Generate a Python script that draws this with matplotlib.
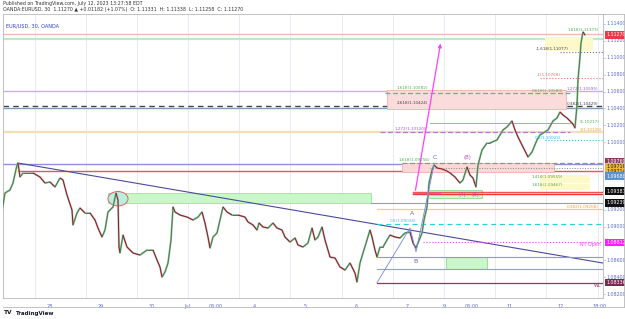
import numpy as np
import matplotlib.pyplot as plt
from matplotlib.collections import LineCollection
from matplotlib.patches import Rectangle, Ellipse, FancyArrowPatch
import matplotlib.transforms as mtransforms

# chart position (30m bars, ~1.06 per bar) and closes
pos = [2, 5, 10, 13, 17, 18, 20, 23, 33, 40, 45, 50, 55, 60, 63, 67, 72, 73, 77, 80,
       85, 90, 95, 98, 102, 105, 108, 113, 116, 118, 119, 120, 123, 127, 133, 140, 147, 153, 157, 160,
       162, 165, 168, 171, 173, 175, 180, 187, 193, 198, 202, 205, 208, 210, 213, 217, 220, 223, 227, 232,
       238, 245, 248, 253, 257, 259, 263, 268, 273, 277, 282, 285, 290, 295, 298, 303, 308, 312, 315, 318,
       322, 325, 328, 330, 335, 340, 345, 350, 355, 357, 360, 363, 367, 370, 372, 375, 377, 380, 383, 387,
       390, 395, 400, 405, 410, 413, 416, 418, 422, 424, 427, 429, 432, 434, 437, 442, 447, 450, 455, 460,
       463, 467, 470, 473, 476, 478, 482, 487, 490, 497, 503, 507, 512, 515, 518, 523, 527, 528, 532, 537,
       540, 548, 553, 557, 560, 563, 567, 570, 573, 575, 577, 578, 580, 581, 583, 585]
close = [1.09176, 1.09398, 1.09433, 1.09516, 1.09729, 1.09753, 1.09587, 1.09635, 1.09635, 1.09587,
         1.09516, 1.09528, 1.09469, 1.09575, 1.09552, 1.09374, 1.09196, 1.09019, 1.09161, 1.09220,
         1.09161, 1.09161, 1.09078, 1.08983, 1.08876, 1.08959, 1.09173, 1.09232, 1.09398, 1.09315,
         1.08758, 1.08687, 1.08900, 1.08758, 1.08687, 1.08663, 1.08722, 1.08722, 1.08604, 1.08521,
         1.08402, 1.08462, 1.08568, 1.08841, 1.09232, 1.09173, 1.09137, 1.09113, 1.09078, 1.09113,
         1.09173, 1.09042, 1.08876, 1.08746, 1.08876, 1.08924, 1.09078, 1.09232, 1.09173, 1.09137,
         1.09137, 1.09113, 1.09054, 1.09019, 1.08959, 1.09042, 1.08995, 1.08983, 1.09042, 1.08983,
         1.08959, 1.08876, 1.08817, 1.08865, 1.08782, 1.08758, 1.08805, 1.08983, 1.08841, 1.08876,
         1.08995, 1.08841, 1.08722, 1.08639, 1.08628, 1.08521, 1.08485, 1.08568, 1.08450, 1.08343,
         1.08568, 1.08687, 1.08841, 1.08959, 1.08876, 1.08722, 1.08639, 1.08758, 1.08758, 1.08841,
         1.08900, 1.08876, 1.08865, 1.08924, 1.08936, 1.08805, 1.08746, 1.08805, 1.08924, 1.09078,
         1.09232, 1.09516, 1.09670, 1.09729, 1.09694, 1.09682, 1.09658, 1.09635, 1.09587, 1.09516,
         1.09552, 1.09706, 1.09611, 1.09575, 1.09469, 1.09729, 1.09907, 1.09990, 1.09990, 1.10026,
         1.10144, 1.10180, 1.10251, 1.10144, 1.10061, 1.09943, 1.09848, 1.09824, 1.09883, 1.10026,
         1.10085, 1.10144, 1.10251, 1.10286, 1.10357, 1.10322, 1.10286, 1.10251, 1.10215, 1.10168,
         1.10440, 1.10737, 1.11009, 1.11175, 1.11305, 1.11270]

# full width levels
level_prices = [1.11282, 1.11222, 1.10606, 1.10429, 1.10405, 1.10120, 1.09745]
level_colors = ['#f7b7b7', '#bfe8c6', '#cdaee3', '#444444', '#7d9cc0', '#f3dfb5', '#8e8ee6']
level_styles = ['-', '-', '-', '--', '-', '-', '-']
level_widths = [1.0, 1.6, 1.0, 1.0, 1.0, 1.6, 1.0]

# fib labels: (x, price, text, color)
fib_x = [397, 397, 395, 399, 390, 536, 537, 532, 567, 567, 580, 580, 535, 568, 532, 532, 567]
fib_p = [1.10612, 1.10440, 1.10138, 1.09770, 1.09045, 1.11077, 1.10768, 1.10580, 1.10605, 1.10432,
         1.10217, 1.10120, 1.10023, 1.11300, 1.09559, 1.09467, 1.09210]
fib_txt = ['1.618(1.10582)', '2.618(1.10424)', '1.272(1.10120)', '1.618(1.09756)', '0.5(1.09034)',
           '-1.618(1.11077)', '-1(1.10768)', '0.618(1.10580)', '1.272(1.10595)', '0.382(1.10429)',
           '(1.10217)', '1(1.10120)', '0.5(1.10023)', '1.618(1.11373)', '1.414(1.09559)',
           '1.618(1.09467)', '0.382(1.09208)']
fib_col = ['#4caf50', '#444444', '#9c5fc9', '#4caf50', '#26c6da', '#444444', '#e57373', '#4caf50',
           '#9c5fc9', '#444444', '#4caf50', '#f0a030', '#26c6da', '#4caf50', '#4caf50', '#4caf50',
           '#f0a030']

# price axis
tick_prices = [1.114, 1.112, 1.110, 1.108, 1.106, 1.104, 1.102, 1.100, 1.092, 1.090, 1.086, 1.084, 1.082]
tag_prices = [1.11270, 1.09769, 1.09716, 1.09714, 1.09688, 1.09387, 1.09239, 1.08812, 1.08336]
tag_y = [1.11270, 1.09769, 1.09712, 1.09655, 1.09598, 1.09420, 1.09280, 1.08812, 1.08336]
tag_colors = ['#f23645', '#8e3a5e', '#f2b53a', '#f2b53a', '#5b8fd6', '#111111', '#111111', '#ff1dff', '#7a2a4e']
tag_text = ['white', 'white', '#222222', '#222222', 'white', 'white', 'white', 'white', 'white']

# time axis
xlab_pos = [50, 101, 152, 187, 216, 254, 305, 356, 407, 444, 472, 510, 561, 600]
xlab_txt = ['28', '29', '30', 'Jul', '06:00', '4', '5', '6', '7', '9', '06:00', '11', '12', '18:00']
grid_pos = [35, 86, 137, 188, 239, 290, 342, 393, 444, 495, 546, 598]

fig = plt.figure(figsize=(6.25, 3.19), dpi=100)
ax = fig.add_axes([3 / 625, 21 / 319, 600 / 625, 284 / 319])
ax.set_xlim(3, 603)
ax.set_ylim(1.08154, 1.11518)
ax.set_xticks([])
ax.set_yticks([])
for s in ax.spines.values():
    s.set_color('#b8b8b8')
    s.set_linewidth(0.6)

for g in grid_pos:
    ax.axvline(g, color='#e3e8f4', lw=0.6, zorder=0)

for p, c, ls, lw in zip(level_prices, level_colors, level_styles, level_widths):
    ax.axhline(p, color=c, ls=ls, lw=lw, zorder=1, dashes=(4, 3) if ls == '--' else (None, None))
ax.plot([18, 603], [1.09658, 1.09658], color='#ef5350', lw=1.0, zorder=1)

# trendline
ax.plot([18, 603], [1.09753, 1.08568], color='#4b4b9c', lw=0.8, zorder=2)

# left supply zone and circle
ax.add_patch(Rectangle((108, 1.09279), 263, 0.00119, fc='#c9f7c9', ec='#9ee09e', lw=0.6, zorder=1))
ax.add_patch(Ellipse((118, 1.09330), 20, 0.00170, fc='#b8f0e0', ec='#e06060', lw=0.7, zorder=3))

# right side zones
ax.add_patch(Rectangle((387, 1.10393), 179, 0.00225, fc='#fbdcdc', ec='#f3b0b0', lw=0.6, zorder=1))
ax.add_patch(Rectangle((402, 1.09646), 152, 0.00107, fc='#fbd8d8', ec='#f3b0b0', lw=0.6, zorder=1))
ax.add_patch(Rectangle((545, 1.11080), 48, 0.00166, fc='#fff8c8', ec='none', zorder=1))
ax.add_patch(Rectangle((540, 1.09520), 50, 0.00090, fc='#fff8c8', ec='none', zorder=1))
ax.add_patch(Rectangle((540, 1.09430), 50, 0.00080, fc='#fff8c8', ec='none', zorder=1))
ax.add_patch(Rectangle((428, 1.09338), 54, 0.00095, fc='#d2f7d2', ec='#8fdc8f', lw=0.6, zorder=2))
ax.add_patch(Rectangle((446, 1.08497), 41, 0.00142, fc='#c9f7c9', ec='#8fdc8f', lw=0.6, zorder=2))

# fib / level lines
ax.plot([385, 570], [1.10580, 1.10580], color='#66bb6a', lw=0.9, ls=(0, (4, 2)), zorder=2)
ax.plot([380, 570], [1.10120, 1.10120], color='#b07fd6', lw=0.9, ls=(0, (4, 2)), zorder=2)
ax.plot([430, 570], [1.10227, 1.10227], color='#81c784', lw=0.7, zorder=2)
ax.plot([545, 603], [1.10023, 1.10023], color='#26c6da', lw=0.8, ls=':', zorder=2)
ax.plot([560, 603], [1.11068, 1.11068], color='#777777', lw=0.8, ls=':', zorder=2)
ax.plot([540, 603], [1.10755, 1.10755], color='#e57373', lw=0.8, ls=':', zorder=2)
ax.plot([402, 603], [1.09756, 1.09756], color='#8a9a80', lw=0.9, ls=(0, (4, 2)), zorder=2)
ax.plot([430, 603], [1.09694, 1.09694], color='#888888', lw=0.7, ls=':', zorder=2)
ax.plot([413, 603], [1.09410, 1.09410], color='#ef5350', lw=1.0, zorder=2)
ax.plot([413, 603], [1.09387, 1.09387], color='#e53935', lw=1.0, zorder=2)
ax.plot([371, 603], [1.09279, 1.09279], color='#9e9e9e', lw=0.8, zorder=2)
ax.plot([377, 603], [1.09208, 1.09208], color='#f7c98a', lw=0.9, zorder=2)
ax.plot([377, 603], [1.09034, 1.09034], color='#26d0e0', lw=0.9, ls=(0, (4, 3)), zorder=2)
ax.plot([423, 603], [1.08812, 1.08812], color='#ff40ff', lw=0.8, ls=':', zorder=2)
ax.plot([377, 603], [1.08635, 1.08635], color='#9090e8', lw=0.8, zorder=2)
ax.plot([377, 603], [1.08497, 1.08497], color='#90a4b8', lw=0.8, zorder=2)
ax.plot([377, 603], [1.08336, 1.08336], color='#8e3a5e', lw=0.9, zorder=2)

# candles drawn as close path (grey wicks, coloured bodies)
pts = np.column_stack([pos, close])
ax.plot(pos, close, color='#b4b4b4', lw=1.4, zorder=4, solid_capstyle='round')
segs = np.stack([pts[:-1], pts[1:]], axis=1)
cols = ['#2e8b3a' if b >= a else '#8b1a1a' for a, b in zip(close[:-1], close[1:])]
ax.add_collection(LineCollection(segs, colors=cols, linewidths=0.7, zorder=5))

# ABC pattern
abc_x = [377, 410, 416, 434]
abc_p = [1.08336, 1.08983, 1.08700, 1.09729]
ax.plot(abc_x, abc_p, color='#7b83eb', lw=0.6, zorder=6)
ax.text(412, 1.09120, 'A', color='#5c6bc0', fontsize=4.5, ha='center', va='bottom', zorder=7)
ax.text(415, 1.08620, 'B', color='#5c6bc0', fontsize=4.5, ha='center', va='top', zorder=7)
ax.text(435, 1.09790, 'C', color='#5c6bc0', fontsize=4.5, ha='center', va='bottom', zorder=7)
ax.text(467, 1.09790, '(B)', color='#b04fb0', fontsize=3.8, ha='center', va='bottom', zorder=7)
ax.text(462, 1.09385, '(4)', color='#b04fb0', fontsize=3.8, ha='center', va='center', zorder=7)
ax.text(475, 1.09375, '(B)', color='#b04fb0', fontsize=3.8, ha='center', va='center', zorder=7)

# projection arrow
ax.plot([413, 440], [1.09398, 1.09398], color='#ff40ff', lw=0.9, zorder=6)
ax.add_patch(FancyArrowPatch((415, 1.09398), (441, 1.11200), arrowstyle='-|>', mutation_scale=5,
                             color='#ff40ff', lw=0.9, zorder=6))

for x, p, t, c in zip(fib_x, fib_p, fib_txt, fib_col):
    ax.text(x, p, t, color=c, fontsize=3.0, ha='left', va='bottom', zorder=7)
ax.text(601, 1.08812, 'NY Open', color='#ff40ff', fontsize=3.4, ha='right', va='top', zorder=7)
ax.text(601, 1.08336, 'WL', color='#8e3a5e', fontsize=3.4, ha='right', va='top', zorder=7)
ax.text(6, 1.1137, 'EUR/USD, 30, OANDA', color='#2f3fd8', fontsize=3.6, ha='left', va='center')

# price axis
ytr = mtransforms.blended_transform_factory(ax.transAxes, ax.transData)
for p in tick_prices:
    ax.text(1.006, p, '%.5f' % p, transform=ytr, color='#5b6bd0', fontsize=3.4, va='center',
            ha='left', clip_on=False)
    ax.plot([1.0, 1.004], [p, p], transform=ytr, color='#b8b8b8', lw=0.5, clip_on=False)
for p, yy, bg, tc in zip(tag_prices, tag_y, tag_colors, tag_text):
    ax.text(1.006, yy, '%.5f' % p, transform=ytr, color=tc, fontsize=3.4, va='center', ha='left',
            clip_on=False, zorder=8,
            bbox=dict(boxstyle='square,pad=0.25', fc=bg, ec='none'))

# time axis
xtr = mtransforms.blended_transform_factory(ax.transData, ax.transAxes)
for x, t in zip(xlab_pos, xlab_txt):
    ax.text(x, -0.02, t, transform=xtr, color='#5b6bd0', fontsize=3.5, ha='center', va='top',
            clip_on=False)

# outer frame of the axes area
fig.add_artist(plt.Line2D([3 / 625, 624 / 625], [12 / 319, 12 / 319], color='#b8b8b8', lw=0.6))
fig.add_artist(plt.Line2D([624 / 625, 624 / 625], [12 / 319, 305 / 319], color='#b8b8b8', lw=0.6))
fig.add_artist(plt.Line2D([603 / 625, 624 / 625], [305 / 319, 305 / 319], color='#b8b8b8', lw=0.6))

fig.text(3 / 625, 1 - 4 / 319, 'Published on TradingView.com, July 12, 2023 13:27:58 EDT',
         fontsize=3.4, color='#333333', va='center')
fig.text(3 / 625, 1 - 10 / 319,
         'OANDA:EURUSD, 30  1.11270 \u25b2 +0.01182 (+1.07%)  O: 1.11331  H: 1.11338  L: 1.11258  C: 1.11270',
         fontsize=3.4, color='#333333', va='center')
fig.text(4 / 625, 6 / 319, 'TV', fontsize=4.2, fontweight='bold', color='#131722', va='center')
fig.text(16 / 625, 6 / 319, 'TradingView', fontsize=4.0, fontweight='bold', color='#131722', va='center')

fig.savefig('out.png', dpi=100)
